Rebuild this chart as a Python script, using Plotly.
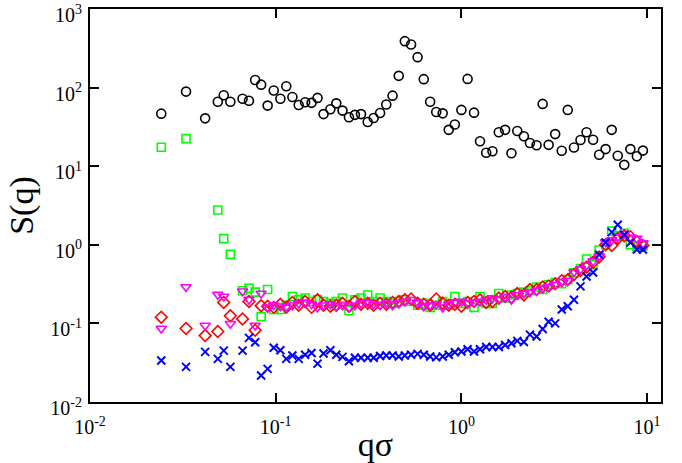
import plotly.graph_objects as go

q = [0.0242, 0.0329, 0.0417, 0.0488, 0.0525, 0.057, 0.0663, 0.0718, 0.0775, 0.0835,
     0.0905, 0.0976, 0.106, 0.114, 0.123, 0.133, 0.144, 0.156, 0.168, 0.181,
     0.197, 0.212, 0.229, 0.248, 0.267, 0.288, 0.313, 0.337, 0.365, 0.394,
     0.426, 0.460, 0.496, 0.536, 0.581, 0.627, 0.679, 0.732, 0.793, 0.855,
     0.922, 1.0, 1.08, 1.17, 1.26, 1.36, 1.47, 1.59, 1.72, 1.86,
     2.0, 2.17, 2.34, 2.54, 2.74, 2.95, 3.2, 3.47, 3.74, 4.04,
     4.38, 4.72, 5.12, 5.52, 5.98, 6.45, 6.95, 7.54, 8.13, 8.81, 9.5]

s_black = [46.6, 89, 40.6, 66, 80, 66, 72, 68, 125, 109,
           59, 92, 72, 104, 76, 60, 65, 64, 74, 46,
           53, 63, 51, 42, 45, 46, 36.5, 41, 47.5, 61,
           79, 141, 390, 354, 244, 128, 66, 49, 47, 29,
           34, 52, 129, 48, 20.8, 14.8, 15.5, 27, 29, 14.6,
           28, 24, 19.7, 18.5, 62, 18.7, 25.6, 15.7, 52, 17.3,
           21.5, 27, 21.7, 14, 16.5, 29, 13.6, 10.4, 16.5, 13.4, 15.8]

s_green = [17.4, 22.4, None, 2.77, 1.20, 0.755, 0.26, 0.28, 0.25, 0.122,
           0.27, 0.15, 0.15, 0.17, 0.22, 0.20, 0.21, 0.19, 0.20, 0.19,
           0.18, 0.19, 0.21, 0.145, 0.20, 0.21, 0.23, 0.19, 0.21, 0.19,
           0.18, 0.19, 0.20, 0.19, 0.17, 0.18, 0.16, 0.17, 0.19, 0.17,
           0.22, 0.18, 0.19, 0.16, 0.22, 0.18, 0.18, 0.24, 0.21, 0.23,
           0.24, 0.25, 0.26, 0.29, 0.27, 0.31, 0.33, 0.32, 0.36, 0.44,
           0.50, 0.66, 0.56, 0.86, 1.0, 1.5, 1.3, 1.4, 1.0, 0.95, 0.97]

s_red = [0.12, 0.086, 0.070, 0.079, 0.185, 0.125, 0.114, 0.19, 0.082, 0.168,
         0.165, 0.16, 0.175, 0.16, 0.185, 0.17, 0.19, 0.16, 0.20, 0.17,
         0.165, 0.17, 0.18, 0.165, 0.19, 0.175, 0.18, 0.17, 0.18, 0.175,
         0.185, 0.19, 0.20, 0.205, 0.18, 0.175, 0.17, 0.205, 0.18, 0.17,
         0.175, 0.165, 0.185, 0.19, 0.20, 0.185, 0.19, 0.21, 0.22, 0.215,
         0.24, 0.23, 0.27, 0.27, 0.29, 0.30, 0.32, 0.35, 0.36, 0.42,
         0.47, 0.52, 0.60, 0.70, 1.0, 0.98, 1.2, 1.3, 1.27, 1.1, 0.98]

s_magenta = [0.086, 0.29, 0.094, 0.232, 0.22, 0.099, 0.256, 0.201, 0.094, 0.24,
             0.16, 0.17, 0.165, 0.16, 0.17, 0.18, 0.185, 0.175, 0.16, 0.17,
             0.175, 0.165, 0.17, 0.16, 0.17, 0.18, 0.185, 0.175, 0.17, 0.18,
             0.17, 0.18, 0.19, 0.20, 0.185, 0.165, 0.17, 0.175, 0.16, 0.175,
             0.185, 0.19, 0.18, 0.185, 0.19, 0.20, 0.21, 0.20, 0.215, 0.20,
             0.23, 0.24, 0.25, 0.26, 0.28, 0.29, 0.31, 0.34, 0.35, 0.45,
             0.49, 0.55, 0.62, 0.72, 1.08, 1.15, 1.25, 1.38, 1.25, 1.2, 1.05]

s_blue = [0.0337, 0.028, 0.0434, 0.0354, 0.045, 0.028, 0.045, 0.0654, 0.0576, 0.0217,
          0.0264, 0.0489, 0.0455, 0.0354, 0.039, 0.0354, 0.040, 0.042, 0.0308, 0.0414,
          0.0455, 0.040, 0.0375, 0.033, 0.0365, 0.0365, 0.0365, 0.0365, 0.0385, 0.039,
          0.039, 0.038, 0.039, 0.040, 0.041, 0.040, 0.038, 0.037, 0.038, 0.040,
          0.043, 0.044, 0.047, 0.044, 0.047, 0.050, 0.050, 0.050, 0.053, 0.056,
          0.060, 0.058, 0.072, 0.068, 0.085, 0.105, 0.100, 0.150, 0.165, 0.200,
          0.296, 0.396, 0.445, 0.748, 1.07, 1.45, 1.80, 1.34, 1.07, 0.87, 0.87]

x_tickvals = [0.01, 0.1, 1, 10]
x_ticktext = ["10<sup>-2</sup>", "10<sup>-1</sup>", "10<sup>0</sup>", "10<sup>1</sup>"]
y_tickvals = [0.01, 0.1, 1, 10, 100, 1000]
y_ticktext = ["10<sup>-2</sup>", "10<sup>-1</sup>", "10<sup>0</sup>",
              "10<sup>1</sup>", "10<sup>2</sup>", "10<sup>3</sup>"]

fig = go.Figure()

series = [
    (s_black, "circle-open", "#000000", 9, 1.6),
    (s_green, "square-open", "#00ff00", 8, 1.6),
    (s_red, "diamond-open", "#ff0000", 9, 1.6),
    (s_magenta, "triangle-down-open", "#ff00ff", 9, 1.6),
    (s_blue, "x-thin-open", "#0000ff", 8, 2.0),
]
for ys, sym, col, sz, lw in series:
    fig.add_trace(go.Scatter(
        x=q, y=ys, mode="markers",
        marker=dict(symbol=sym, size=sz, color=col, line=dict(color=col, width=lw)),
        showlegend=False,
    ))

font_family = "Liberation Serif"
axis_common = dict(
    type="log", showgrid=False, zeroline=False, automargin=False,
    showline=True, linecolor="black", linewidth=2, mirror="ticks",
    ticks="inside", ticklen=9, tickwidth=1.5, tickcolor="black",
    tickfont=dict(family=font_family, size=20, color="black"),
    ticklabeloverflow="allow",
)

fig.update_layout(
    width=682, height=463,
    margin=dict(l=90, r=21, t=9, b=61),
    paper_bgcolor="white", plot_bgcolor="white",
    font=dict(family=font_family, color="black"),
    xaxis=dict(range=[-2, 1.075], tickvals=x_tickvals, ticktext=x_ticktext,
               ticklabelstandoff=6,
               title=dict(text="qσ", font=dict(family=font_family, size=34), standoff=6),
               **axis_common),
    yaxis=dict(range=[-2, 3], tickvals=y_tickvals, ticktext=y_ticktext,
               ticklabelshift=6, ticklabelstandoff=2,
               title=dict(text="S(q)", font=dict(family=font_family, size=34), standoff=6),
               **axis_common),
)

fig.write_html("out.html")
